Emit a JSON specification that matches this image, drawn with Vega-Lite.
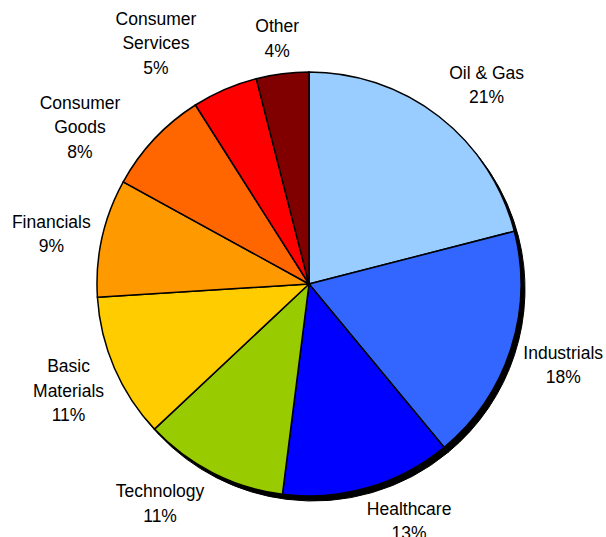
{
  "$schema": "https://vega.github.io/schema/vega-lite/v6.json",
  "width": 594,
  "height": 506,
  "padding": {"left": 12, "top": 31, "right": 0, "bottom": 0},
  "autosize": {"type": "none"},
  "background": "white",
  "view": {"stroke": null},
  "data": {
    "values": [
      {"order": 1, "sector": "Oil & Gas", "pct": 21, "label": "Oil & Gas\n21%"},
      {"order": 2, "sector": "Industrials", "pct": 18, "label": "Industrials\n18%"},
      {"order": 3, "sector": "Healthcare", "pct": 13, "label": "Healthcare\n13%"},
      {"order": 4, "sector": "Technology", "pct": 11, "label": "Technology\n11%"},
      {"order": 5, "sector": "Basic Materials", "pct": 11, "label": "Basic\nMaterials\n11%"},
      {"order": 6, "sector": "Financials", "pct": 9, "label": "Financials\n9%"},
      {"order": 7, "sector": "Consumer Goods", "pct": 8, "label": "Consumer\nGoods\n8%"},
      {"order": 8, "sector": "Consumer Services", "pct": 5, "label": "Consumer\nServices\n5%"},
      {"order": 9, "sector": "Other", "pct": 4, "label": "Other\n4%"}
    ]
  },
  "encoding": {
    "theta": {"field": "pct", "type": "quantitative", "stack": true},
    "order": {"field": "order", "type": "quantitative"}
  },
  "layer": [
    {
      "mark": {"type": "arc", "outerRadius": 212, "color": "black", "xOffset": 4, "yOffset": 5, "stroke": "black", "strokeWidth": 1}
    },
    {
      "mark": {"type": "arc", "outerRadius": 212, "stroke": "black", "strokeWidth": 1.5},
      "encoding": {
        "color": {
          "field": "sector",
          "type": "nominal",
          "legend": null,
          "scale": {
            "domain": ["Oil & Gas", "Industrials", "Healthcare", "Technology", "Basic Materials", "Financials", "Consumer Goods", "Consumer Services", "Other"],
            "range": ["#99CCFF", "#3366FF", "#0000FF", "#99CC00", "#FFCC00", "#FF9900", "#FF6600", "#FF0000", "#800000"]
          }
        }
      }
    },
    {
      "mark": {"type": "text", "radius": 262, "dx": 17, "dy": -3, "font": "Liberation Sans", "fontSize": 17.5, "lineHeight": 24.5, "lineBreak": "\n", "baseline": "middle", "align": "center", "color": "black"},
      "encoding": {"text": {"condition": {"test": "datum.sector == 'Oil & Gas'", "field": "label"}, "value": ""}}
    },
    {
      "mark": {"type": "text", "radius": 262, "dx": 5, "dy": -11, "font": "Liberation Sans", "fontSize": 17.5, "lineHeight": 24.5, "lineBreak": "\n", "baseline": "middle", "align": "center", "color": "black"},
      "encoding": {"text": {"condition": {"test": "datum.sector == 'Industrials'", "field": "label"}, "value": ""}}
    },
    {
      "mark": {"type": "text", "radius": 262, "dx": 27, "dy": -26, "font": "Liberation Sans", "fontSize": 17.5, "lineHeight": 24.5, "lineBreak": "\n", "baseline": "middle", "align": "center", "color": "black"},
      "encoding": {"text": {"condition": {"test": "datum.sector == 'Healthcare'", "field": "label"}, "value": ""}}
    },
    {
      "mark": {"type": "text", "radius": 262, "dx": -30, "dy": -25, "font": "Liberation Sans", "fontSize": 17.5, "lineHeight": 24.5, "lineBreak": "\n", "baseline": "middle", "align": "center", "color": "black"},
      "encoding": {"text": {"condition": {"test": "datum.sector == 'Technology'", "field": "label"}, "value": ""}}
    },
    {
      "mark": {"type": "text", "radius": 262, "dx": 0, "dy": -21, "font": "Liberation Sans", "fontSize": 17.5, "lineHeight": 24.5, "lineBreak": "\n", "baseline": "middle", "align": "center", "color": "black"},
      "encoding": {"text": {"condition": {"test": "datum.sector == 'Basic Materials'", "field": "label"}, "value": ""}}
    },
    {
      "mark": {"type": "text", "radius": 262, "dx": -2, "dy": -4, "font": "Liberation Sans", "fontSize": 17.5, "lineHeight": 24.5, "lineBreak": "\n", "baseline": "middle", "align": "center", "color": "black"},
      "encoding": {"text": {"condition": {"test": "datum.sector == 'Financials'", "field": "label"}, "value": ""}}
    },
    {
      "mark": {"type": "text", "radius": 262, "dx": -38, "dy": -1, "font": "Liberation Sans", "fontSize": 17.5, "lineHeight": 24.5, "lineBreak": "\n", "baseline": "middle", "align": "center", "color": "black"},
      "encoding": {"text": {"condition": {"test": "datum.sector == 'Consumer Goods'", "field": "label"}, "value": ""}}
    },
    {
      "mark": {"type": "text", "radius": 262, "dx": -49, "dy": -24, "font": "Liberation Sans", "fontSize": 17.5, "lineHeight": 24.5, "lineBreak": "\n", "baseline": "middle", "align": "center", "color": "black"},
      "encoding": {"text": {"condition": {"test": "datum.sector == 'Consumer Services'", "field": "label"}, "value": ""}}
    },
    {
      "mark": {"type": "text", "radius": 262, "dx": 1, "dy": 3, "font": "Liberation Sans", "fontSize": 17.5, "lineHeight": 24.5, "lineBreak": "\n", "baseline": "middle", "align": "center", "color": "black"},
      "encoding": {"text": {"condition": {"test": "datum.sector == 'Other'", "field": "label"}, "value": ""}}
    }
  ]
}
